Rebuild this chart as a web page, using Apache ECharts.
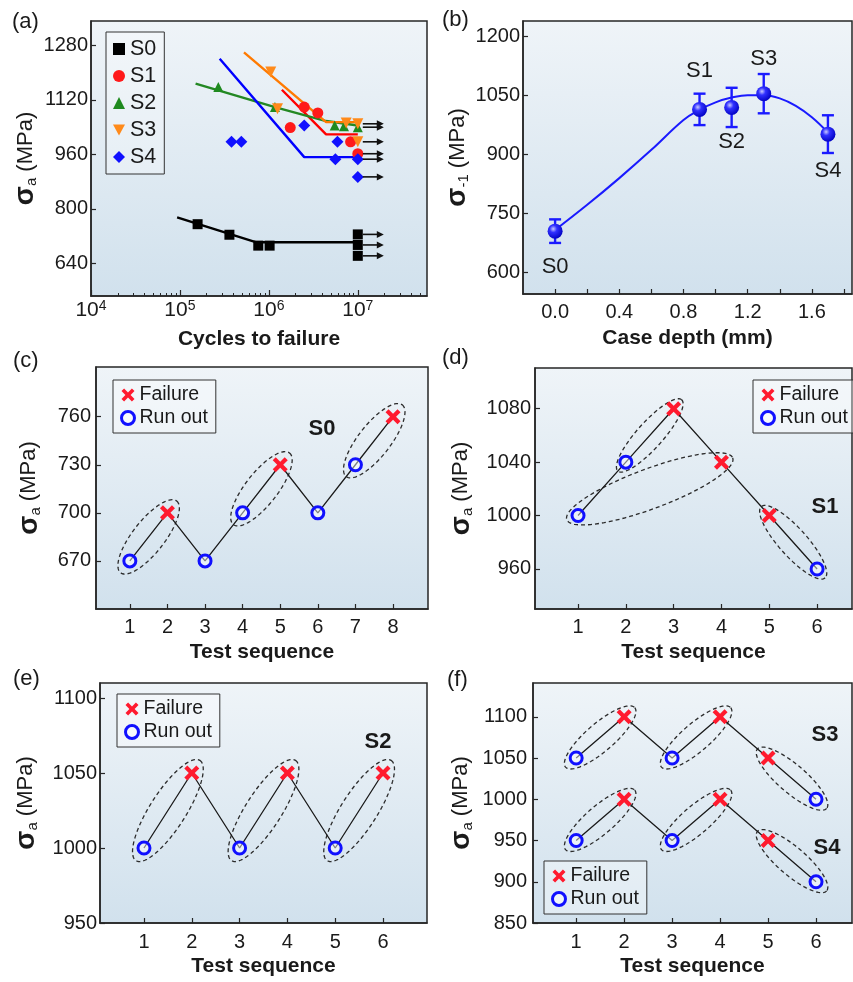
<!DOCTYPE html>
<html>
<head>
<meta charset="utf-8">
<script src="https://cdn.jsdelivr.net/npm/echarts@6/dist/echarts.min.js"></script>
<style>
  html, body { margin: 0; padding: 0; background: #ffffff; }
  #chart { width: 853px; height: 982px; }
</style>
</head>
<body>
<div id="chart"></div>
<script>
// ---------- (a) S–N data: cycles to failure vs stress amplitude (MPa) ----------
const snS0 = [[1.58e5, 755], [3.6e5, 724], [7.6e5, 692], [1.02e6, 692]];
const snS0Runout = [[1e7, 725], [1e7, 694], [1e7, 662]];
const snS1 = [[1.74e6, 1039], [2.5e6, 1099], [3.55e6, 1082], [8.3e6, 997]];
const snS1Runout = [[1e7, 962]];
const snS2 = [[2.7e5, 1158], [1.17e6, 1099], [5.5e6, 1045], [7.0e6, 1043]];
const snS2Runout = [[1e7, 1040]];
const snS3 = [[1.05e6, 1202], [1.25e6, 1094], [7.4e6, 1052]];
const snS3Runout = [[1e7, 1050], [1e7, 997]];
const snS4 = [[3.8e5, 997], [4.9e5, 997], [2.5e6, 1045], [5.9e6, 997], [5.6e6, 946]];
const snS4Runout = [[1e7, 946], [1e7, 894]];

// fitted S–N curves (knee + fatigue-limit plateau)
const fitS0 = [[9.3e4, 775], [7.1e5, 702], [1e7, 702]];
const fitS1 = [[1.4e6, 1150], [4.4e6, 1019], [1e7, 1019]];
const fitS2 = [[1.5e5, 1168], [1.17e6, 1099], [4.4e6, 1058], [1e7, 1045]];
const fitS3 = [[5.25e5, 1260], [4.4e6, 1055], [1e7, 1055]];
const fitS4 = [[2.8e5, 1241], [2.5e6, 952], [1e7, 952]];

const cycleTicks = [1e4, 1e5, 1e6, 1e7];
const cycleMinorTicks = [2e4,3e4,4e4,5e4,6e4,7e4,8e4,9e4, 2e5,3e5,4e5,5e5,6e5,7e5,8e5,9e5,
  2e6,3e6,4e6,5e6,6e6,7e6,8e6,9e6, 2e7,3e7,4e7,5e7];
const stressTicksA = [640, 800, 960, 1120, 1280];

// ---------- (b) fatigue limit vs case depth ----------
const samples = ['S0', 'S1', 'S2', 'S3', 'S4'];
const caseDepth = [0.0, 0.9, 1.1, 1.3, 1.7];
const fatigueLimit = [705, 1015, 1020, 1055, 952];
const fatigueErr = [30, 40, 50, 50, 48];
const trendDepth = [0, 0.2, 0.4, 0.6, 0.8, 0.9, 1.0, 1.1, 1.2, 1.3, 1.4, 1.5, 1.6, 1.7];
const trendLimit = [708, 772, 840, 912, 988, 1014, 1033, 1045, 1051, 1051, 1043, 1024, 995, 956];
const depthTicks = [0, 0.4, 0.8, 1.2, 1.6];
const depthMinorTicks = [0, 0.2, 0.4, 0.6, 0.8, 1.0, 1.2, 1.4, 1.6, 1.8];
const limitTicks = [600, 750, 900, 1050, 1200];

// ---------- (c)–(f) up-and-down (staircase) tests ----------
const seqS0 = [1, 2, 3, 4, 5, 6, 7, 8];
const stressS0 = [670, 700, 670, 700, 730, 700, 730, 760];
const resultS0 = ['R', 'F', 'R', 'R', 'F', 'R', 'R', 'F'];
const pairsS0 = [[1, 2], [4, 5], [7, 8]];

const seqS1 = [1, 2, 3, 4, 5, 6];
const stressS1 = [1000, 1040, 1080, 1040, 1000, 960];
const resultS1 = ['R', 'R', 'F', 'F', 'F', 'R'];
const pairsS1 = [[2, 3], [1, 4], [5, 6]];

const seqS2 = [1, 2, 3, 4, 5, 6];
const stressS2 = [1000, 1050, 1000, 1050, 1000, 1050];
const resultS2 = ['R', 'F', 'R', 'F', 'R', 'F'];
const pairsS2 = [[1, 2], [3, 4], [5, 6]];

const seqS34 = [1, 2, 3, 4, 5, 6];
const stressS3 = [1050, 1100, 1050, 1100, 1050, 1000];
const resultS3 = ['R', 'F', 'R', 'F', 'F', 'R'];
const stressS4 = [950, 1000, 950, 1000, 950, 900];
const resultS4 = ['R', 'F', 'R', 'F', 'F', 'R'];
const pairsS34 = [[1, 2], [3, 4], [5, 6]];

const ticksC = [670, 700, 730, 760];
const ticksD = [960, 1000, 1040, 1080];
const ticksE = [950, 1000, 1050, 1100];
const ticksF = [850, 900, 950, 1000, 1050, 1100];

// ---------- styling ----------
const FONT = "'Liberation Sans', Arial, Helvetica, sans-serif";
const INK = '#1a1a1a';
const FRAME = '#262626';
const plotBg = {
  type: 'linear', x: 0, y: 0, x2: 0, y2: 1,
  colorStops: [{ offset: 0, color: '#eff4f8' }, { offset: 1, color: '#d1e1ed' }]
};
const crossPath = 'path://M2,0 L5,3 L8,0 L10,2 L7,5 L10,8 L8,10 L5,7 L2,10 L0,8 L3,5 L0,2 Z';
const downTriangle = 'path://M0,0 L10,0 L5,9 Z';
const FAIL_RED = '#ff1a2e';
const RUN_BLUE = '#1010ff';

const gridBoxes = [
  { left: 91, top: 21, width: 336, height: 275 },   // (a)
  { left: 523, top: 21, width: 329, height: 273 },  // (b)
  { left: 96, top: 367, width: 332, height: 242 },  // (c)
  { left: 535, top: 368, width: 317, height: 241 }, // (d)
  { left: 100, top: 683, width: 327, height: 240 }, // (e)
  { left: 533, top: 683, width: 319, height: 240 }  // (f)
];
const grid = gridBoxes.map(g => Object.assign({
  show: true, backgroundColor: plotBg, borderColor: FRAME, borderWidth: 1.5,
  containLabel: false, outerBoundsMode: 'none'
}, g));

const lineAxis = { show: true, onZero: false, lineStyle: { color: FRAME, width: 1.5 } };

function yNameStyle() {
  return {
    fontSize: 22, color: INK, fontFamily: FONT,
    rich: {
      sig: { fontSize: 28, fontWeight: 'bold', color: INK, fontFamily: FONT },
      sub: { fontSize: 15, color: INK, fontFamily: FONT, verticalAlign: 'bottom' }
    }
  };
}

function yAxisCfg(gi, min, max, ticks, sub, gap, margin) {
  return {
    type: 'value', gridIndex: gi, min, max,
    axisLine: lineAxis,
    axisTick: { show: true, inside: true, length: 5, customValues: ticks, lineStyle: { color: FRAME, width: 1.2 } },
    axisLabel: { customValues: ticks, fontSize: 20, color: INK, fontFamily: FONT, margin, formatter: v => String(v) },
    splitLine: { show: false },
    name: '{sig|σ}{sub|' + sub + '} (MPa)', nameLocation: 'middle', nameGap: gap, nameRotate: 90,
    nameTextStyle: yNameStyle()
  };
}

function xAxisCfg(gi, min, max, ticks, minor, name, gap, margin) {
  return {
    type: 'value', gridIndex: gi, min, max,
    axisLine: lineAxis,
    axisTick: { show: true, inside: true, length: 5, customValues: minor || ticks, lineStyle: { color: FRAME, width: 1.2 } },
    axisLabel: {
      customValues: ticks, fontSize: 20, color: INK, fontFamily: FONT, margin,
      formatter: v => (gi === 1 ? v.toFixed(1) : String(v))
    },
    splitLine: { show: false },
    name, nameLocation: 'middle', nameGap: gap,
    nameTextStyle: { fontSize: 21, fontWeight: 'bold', color: INK, fontFamily: FONT }
  };
}

// dashed ellipses enclosing pairs of consecutive tests
function pairEllipses(gi, xs, ys, pairs, ry, pad) {
  const data = pairs.map(([a, b]) => [xs[a - 1], ys[a - 1], xs[b - 1], ys[b - 1]]);
  return {
    type: 'custom', xAxisIndex: gi, yAxisIndex: gi, z: 1, silent: true,
    data, encode: { x: [0, 2], y: [1, 3] },
    renderItem(params, api) {
      const p1 = api.coord([api.value(0), api.value(1)]);
      const p2 = api.coord([api.value(2), api.value(3)]);
      const cx = (p1[0] + p2[0]) / 2, cy = (p1[1] + p2[1]) / 2;
      const dx = p2[0] - p1[0], dy = p2[1] - p1[1];
      const ang = Math.atan2(dy, dx);
      const rx = Math.hypot(dx, dy) / 2 + pad;
      const r = Array.isArray(ry) ? ry[params.dataIndex] : ry;
      const pts = [];
      for (let i = 0; i < 90; i++) {
        const t = i / 90 * 2 * Math.PI;
        const ex = rx * Math.cos(t), ey = r * Math.sin(t);
        pts.push([cx + ex * Math.cos(ang) - ey * Math.sin(ang), cy + ex * Math.sin(ang) + ey * Math.cos(ang)]);
      }
      return {
        type: 'polygon', shape: { points: pts },
        style: { fill: 'none', stroke: '#2b2b2b', lineWidth: 1.3, lineDash: [4, 3] }
      };
    }
  };
}

function staircase(gi, xs, ys, res) {
  const pts = xs.map((x, i) => [x, ys[i]]);
  return [
    { type: 'line', xAxisIndex: gi, yAxisIndex: gi, data: pts, symbol: 'none', z: 2, silent: true,
      lineStyle: { color: '#1a1a1a', width: 1.3 } },
    { type: 'scatter', name: 'Failure', xAxisIndex: gi, yAxisIndex: gi, z: 4,
      data: pts.filter((p, i) => res[i] === 'F'), symbol: crossPath, symbolSize: 15,
      itemStyle: { color: FAIL_RED, opacity: 1 } },
    { type: 'scatter', name: 'Run out', xAxisIndex: gi, yAxisIndex: gi, z: 4,
      data: pts.filter((p, i) => res[i] === 'R'), symbol: 'circle', symbolSize: 12,
      itemStyle: { color: 'rgba(255,255,255,0.45)', borderColor: RUN_BLUE, borderWidth: 3, opacity: 1 } }
  ];
}

function staircaseLegend(left, top) {
  return {
    show: true, orient: 'vertical', left, top, selectedMode: false,
    backgroundColor: 'rgba(255,255,255,0.35)', borderColor: '#333', borderWidth: 1,
    padding: [5, 8, 5, 7], itemGap: 3, itemWidth: 13, itemHeight: 13,
    textStyle: { fontSize: 19.5, color: INK, fontFamily: FONT, lineHeight: 20 },
    data: [{ name: 'Failure' }, { name: 'Run out', itemStyle: { borderWidth: 3 } }]
  };
}

// ---------- series of panel (a) ----------
const snGroups = [
  { name: 'S0', pts: snS0, run: snS0Runout, fit: fitS0, symbol: 'rect', size: 10, color: '#000000', line: '#000000' },
  { name: 'S1', pts: snS1, run: snS1Runout, fit: fitS1, symbol: 'circle', size: 11, color: '#ff1a1a', line: '#ff0000' },
  { name: 'S2', pts: snS2, run: snS2Runout, fit: fitS2, symbol: 'triangle', size: 10, color: '#1f8a1f', line: '#238823' },
  { name: 'S3', pts: snS3, run: snS3Runout, fit: fitS3, symbol: downTriangle, size: 11, color: '#ff8a1a', line: '#ff7a00' },
  { name: 'S4', pts: snS4, run: snS4Runout, fit: fitS4, symbol: 'diamond', size: 12, color: '#1010ff', line: '#0000ff' }
];
const seriesA = [];
snGroups.forEach(g => {
  seriesA.push({ type: 'line', name: g.name + ' fit', xAxisIndex: 0, yAxisIndex: 0, data: g.fit,
    symbol: 'none', z: 2, silent: true, lineStyle: { color: g.line, width: 2.4 } });
});
snGroups.forEach(g => {
  seriesA.push({ type: 'scatter', name: g.name, xAxisIndex: 0, yAxisIndex: 0, z: 3,
    data: g.pts.concat(g.run), symbol: g.symbol, symbolSize: g.size,
    itemStyle: { color: g.color, opacity: 1 } });
});
// run-out arrows
seriesA.push({
  type: 'custom', xAxisIndex: 0, yAxisIndex: 0, z: 5, silent: true,
  data: [].concat(snS0Runout, snS1Runout, snS2Runout, snS3Runout, snS4Runout),
  renderItem(params, api) {
    const p = api.coord([api.value(0), api.value(1)]);
    const x0 = p[0] + 5, x1 = p[0] + 26, y = p[1];
    return {
      type: 'group', children: [
        { type: 'line', shape: { x1: x0, y1: y, x2: x1 - 5, y2: y }, style: { stroke: '#111', lineWidth: 1.6 } },
        { type: 'polygon', shape: { points: [[x1, y], [x1 - 7, y - 3.5], [x1 - 7, y + 3.5]] }, style: { fill: '#111' } }
      ]
    };
  }
});

// ---------- series of panel (b) ----------
const labelSide = ['bottom', 'top', 'bottom', 'top', 'bottom'];
const labelGap = [17, 20, 16, 16, 18];
const pointFill = {
  type: 'radial', x: 0.38, y: 0.35, r: 0.7,
  colorStops: [{ offset: 0, color: '#c8c8ff' }, { offset: 0.35, color: '#3030ff' }, { offset: 1, color: '#0000c0' }]
};
const seriesB = [
  { type: 'line', xAxisIndex: 1, yAxisIndex: 1, data: trendDepth.map((d, i) => [d, trendLimit[i]]),
    smooth: 0.4, symbol: 'none', z: 2, silent: true, lineStyle: { color: '#1a1aff', width: 2 } },
  { type: 'custom', xAxisIndex: 1, yAxisIndex: 1, z: 3, silent: true,
    data: caseDepth.map((d, i) => [d, fatigueLimit[i] - fatigueErr[i], fatigueLimit[i] + fatigueErr[i]]),
    encode: { x: 0, y: [1, 2] },
    renderItem(params, api) {
      const lo = api.coord([api.value(0), api.value(1)]);
      const hi = api.coord([api.value(0), api.value(2)]);
      const st = { stroke: '#1a1aff', lineWidth: 2.4 };
      return { type: 'group', children: [
        { type: 'line', shape: { x1: lo[0], y1: lo[1], x2: hi[0], y2: hi[1] }, style: st },
        { type: 'line', shape: { x1: lo[0] - 6, y1: lo[1], x2: lo[0] + 6, y2: lo[1] }, style: st },
        { type: 'line', shape: { x1: hi[0] - 6, y1: hi[1], x2: hi[0] + 6, y2: hi[1] }, style: st }
      ] };
    } },
  { type: 'scatter', xAxisIndex: 1, yAxisIndex: 1, z: 4, symbol: 'circle', symbolSize: 15,
    itemStyle: { color: pointFill, opacity: 1 },
    data: caseDepth.map((d, i) => ({
      value: [d, fatigueLimit[i]],
      label: { show: true, formatter: samples[i], position: labelSide[i], distance: labelGap[i],
        fontSize: 22, color: INK, fontFamily: FONT, opacity: 1 }
    })) }
];

// ---------- assemble ----------
const series = [].concat(
  seriesA, seriesB,
  pairEllipses(2, seqS0, stressS0, pairsS0, 16, 15), staircase(2, seqS0, stressS0, resultS0),
  pairEllipses(3, seqS1, stressS1, pairsS1, [13, 20, 14], 12), staircase(3, seqS1, stressS1, resultS1),
  pairEllipses(4, seqS2, stressS2, pairsS2, 18, 15), staircase(4, seqS2, stressS2, resultS2),
  pairEllipses(5, seqS34, stressS3, pairsS34, 14, 14), staircase(5, seqS34, stressS3, resultS3),
  pairEllipses(5, seqS34, stressS4, pairsS34, 14, 14), staircase(5, seqS34, stressS4, resultS4)
);

const xAxes = [
  { type: 'log', logBase: 10, gridIndex: 0, min: 1e4, max: 6e7, position: 'bottom',
    axisLine: lineAxis,
    axisTick: { show: true, inside: true, length: 6, customValues: cycleTicks, lineStyle: { color: FRAME, width: 1.2 } },
    axisLabel: {
      customValues: cycleTicks, margin: 3, color: INK, fontFamily: FONT,
      formatter: v => { const e = Math.log10(v), r = Math.round(e); return Math.abs(e - r) < 1e-6 ? '{base|10}{sup|' + r + '}' : ''; },
      rich: {
        base: { fontSize: 21, lineHeight: 22, verticalAlign: 'bottom', color: INK, fontFamily: FONT },
        sup: { fontSize: 14, lineHeight: 12, verticalAlign: 'top', color: INK, fontFamily: FONT }
      }
    },
    splitLine: { show: false },
    name: 'Cycles to failure', nameLocation: 'middle', nameGap: 33,
    nameTextStyle: { fontSize: 21, fontWeight: 'bold', color: INK, fontFamily: FONT } },
  xAxisCfg(1, -0.2, 1.85, depthTicks, depthMinorTicks, 'Case depth (mm)', 34, 8),
  xAxisCfg(2, 0.1, 8.93, seqS0, null, 'Test sequence', 33, 8),
  xAxisCfg(3, 0.1, 6.73, seqS1, null, 'Test sequence', 33, 8),
  xAxisCfg(4, 0.08, 6.92, seqS2, null, 'Test sequence', 33, 9),
  xAxisCfg(5, 0.1, 6.75, seqS34, null, 'Test sequence', 33, 9),
  // minor log ticks for panel (a)
  { type: 'log', logBase: 10, gridIndex: 0, min: 1e4, max: 6e7, position: 'bottom',
    axisLine: { show: false }, axisLabel: { show: false }, splitLine: { show: false },
    axisTick: { show: true, inside: true, length: 3, customValues: cycleMinorTicks, lineStyle: { color: FRAME, width: 1 } } }
];

const yAxes = [
  yAxisCfg(0, 544, 1352, stressTicksA, 'a', 48, 3),
  yAxisCfg(1, 545, 1240, limitTicks, '-1', 46, 3),
  yAxisCfg(2, 640, 791, ticksC, 'a', 53, 5),
  yAxisCfg(3, 930, 1110.5, ticksD, 'a', 60, 4),
  yAxisCfg(4, 950, 1110, ticksE, 'a', 60, 3),
  yAxisCfg(5, 850, 1141, ticksF, 'a', 58, 6)
];

function tag(text, x, y, bold) {
  return { type: 'text', x, y, z: 100, style: {
    text, fontSize: 22, fontWeight: bold ? 'bold' : 'normal', fontFamily: FONT, fill: INK,
    align: bold ? 'center' : 'left', verticalAlign: 'middle' } };
}

const option = {
  animation: false,
  backgroundColor: '#ffffff',
  grid,
  xAxis: xAxes,
  yAxis: yAxes,
  legend: [
    { show: true, orient: 'vertical', left: 106, top: 32, selectedMode: false,
      backgroundColor: 'rgba(255,255,255,0.25)', borderColor: '#333', borderWidth: 1,
      padding: [6, 8, 6, 7], itemGap: 5, itemWidth: 12, itemHeight: 12,
      textStyle: { fontSize: 21.5, color: INK, fontFamily: FONT, lineHeight: 22 },
      data: samples },
    staircaseLegend(113, 380),
    staircaseLegend(753, 380),
    staircaseLegend(117, 694),
    staircaseLegend(544, 861)
  ],
  graphic: [
    tag('(a)', 12, 22), tag('(b)', 442, 20), tag('(c)', 13, 361), tag('(d)', 442, 358),
    tag('(e)', 13, 679), tag('(f)', 447, 680),
    tag('S0', 322, 429, true), tag('S1', 825, 507, true), tag('S2', 378, 742, true),
    tag('S3', 825, 735, true), tag('S4', 827, 848, true)
  ],
  series
};

const chart = echarts.init(document.getElementById('chart'), null, { renderer: 'canvas' });
chart.setOption(option);
</script>
</body>
</html>
